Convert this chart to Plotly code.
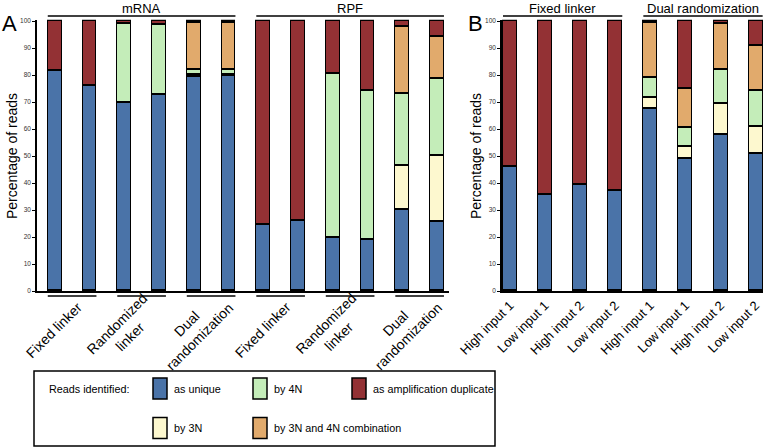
import plotly.graph_objects as go

W, H = 763, 447

# ---------------- data ----------------
series_names = ["as unique", "by 3N", "by 4N", "by 3N and 4N combination",
                "as amplification duplicate"]
series_colors = ["#4a73a8", "#fdf8cf", "#c4edb9", "#e1aa6c", "#933134"]

# Panel A: mRNA (6 samples) then RPF (6 samples)
a_unique = [81.5, 76.0, 69.8, 72.8, 79.5, 79.8, 24.7, 26.2, 19.6, 19.2, 30.0, 25.8]
a_by3n = [0, 0, 0, 0, 0.5, 0.4, 0, 0, 0, 0, 16.4, 24.3]
a_by4n = [0, 0, 29.2, 26.0, 2.0, 1.8, 0, 0, 60.8, 55.1, 26.7, 28.4]
a_combo = [0, 0, 0, 0, 17.5, 17.4, 0, 0, 0, 0, 24.9, 15.7]
a_dup = [18.5, 24.0, 1.0, 1.2, 0.5, 0.6, 75.3, 73.8, 19.6, 25.7, 2.0, 5.8]
a_groups = ["Fixed linker", "Randomized<br>linker", "Dual<br>randomization",
            "Fixed linker", "Randomized<br>linker", "Dual<br>randomization"]
a_sections = ["mRNA", "RPF"]

# Panel B
b_labels = ["High input 1", "Low input 1", "High input 2", "Low input 2",
            "High input 1", "Low input 1", "High input 2", "Low input 2"]
b_unique = [46.0, 35.6, 39.5, 37.0, 67.4, 49.1, 58.0, 51.0]
b_by3n = [0, 0, 0, 0, 4.3, 4.3, 11.5, 10.0]
b_by4n = [0, 0, 0, 0, 7.2, 7.1, 12.4, 13.2]
b_combo = [0, 0, 0, 0, 20.6, 14.6, 17.2, 16.8]
b_dup = [54.0, 64.4, 60.5, 63.0, 0.5, 24.9, 0.9, 9.0]
b_sections = ["Fixed linker", "Dual randomization"]

y_ticks = [0, 10, 20, 30, 40, 50, 60, 70, 80, 90, 100]
y_title = "Percentage of reads"
legend_title = "Reads identified:"

a_series = [a_unique, a_by3n, a_by4n, a_combo, a_dup]
b_series = [b_unique, b_by3n, b_by4n, b_combo, b_dup]

# ---------------- helpers ----------------
def px(x):
    return x / W


def py(y):
    return 1 - y / H


FONT = "Liberation Sans, Arial, sans-serif"

fig = go.Figure()

a_x = list(range(len(a_unique)))
b_x = list(range(len(b_unique)))
for k, name in enumerate(series_names):
    fig.add_bar(x=a_x, y=a_series[k], name=name, xaxis="x", yaxis="y",
                width=0.4, showlegend=False,
                marker=dict(color=series_colors[k], line=dict(color="black", width=1.5)))
    fig.add_bar(x=b_x, y=b_series[k], name=name, xaxis="x2", yaxis="y2",
                width=0.4, showlegend=False,
                marker=dict(color=series_colors[k], line=dict(color="black", width=1.5)))

yax = dict(range=[0, 100.5], tickvals=y_ticks, ticks="outside", ticklen=3,
           tickwidth=1, tickcolor="black", showline=True, linecolor="black",
           linewidth=1.5, showgrid=False, zeroline=False, automargin=False,
           tickfont=dict(size=6.5, color="#333", family=FONT),
           domain=[py(291), py(19.65)])

fig.update_layout(
    template="none",
    width=W, height=H, margin=dict(l=0, r=0, t=0, b=0, pad=0),
    paper_bgcolor="white", plot_bgcolor="white",
    barmode="stack", bargap=0,
    font=dict(family=FONT, color="black"),
    xaxis=dict(domain=[px(37), px(449)], range=[-0.51, 11.345], anchor="y",
               showline=True, linecolor="black", linewidth=1.5, automargin=False,
               showticklabels=False, ticks="", showgrid=False, zeroline=False),
    yaxis=dict(anchor="x", **yax),
    xaxis2=dict(domain=[px(502), 1.0], range=[-0.228, 7.21], anchor="y2",
                showline=True, linecolor="black", linewidth=1.5, automargin=False,
                tickvals=b_x, ticktext=b_labels, tickangle=-45, ticks="",
                tickfont=dict(size=13, family=FONT, color="black"),
                showgrid=False, zeroline=False),
    yaxis2=dict(anchor="x2", **yax),
)

ann = []
shapes = []

# panel letters
ann.append(dict(text="A", x=px(9.5), y=py(23), xref="paper", yref="paper",
                showarrow=False, font=dict(size=22), xanchor="center", yanchor="middle"))
ann.append(dict(text="B", x=px(475.5), y=py(23), xref="paper", yref="paper",
                showarrow=False, font=dict(size=22), xanchor="center", yanchor="middle"))
# y titles
for xt in (12, 476):
    ann.append(dict(text=y_title, x=px(xt), y=py(156), xref="paper", yref="paper",
                    textangle=-90, showarrow=False, font=dict(size=14),
                    xanchor="center", yanchor="middle"))

# section titles and lines
for i, s in enumerate(a_sections):
    c = i * 6 + 2.5
    ann.append(dict(text=s, x=c, y=py(8.5), xref="x", yref="paper", showarrow=False,
                    font=dict(size=13), xanchor="center", yanchor="middle"))
    shapes.append(dict(type="line", xref="x", yref="paper", x0=c - 2.7, x1=c + 2.7,
                       y0=py(16), y1=py(16), line=dict(color="black", width=1.3)))
for i, s in enumerate(b_sections):
    c = i * 4 + 1.5
    ann.append(dict(text=s, x=c, y=py(8.5), xref="x2", yref="paper", showarrow=False,
                    font=dict(size=13), xanchor="center", yanchor="middle"))
    shapes.append(dict(type="line", xref="x2", yref="paper", x0=c - 1.7, x1=c + 1.7,
                       y0=py(16), y1=py(16), line=dict(color="black", width=1.3)))

# panel A group labels and underlines
for i, g in enumerate(a_groups):
    c = i * 2 + 0.5
    shapes.append(dict(type="line", xref="x", yref="paper", x0=c - 0.7, x1=c + 0.7,
                       y0=py(296), y1=py(296), line=dict(color="black", width=1.3)))
    ann.append(dict(text=g, x=c, y=py(330), xref="x", yref="paper", xshift=-18,
                    textangle=-45, showarrow=False, align="center",
                    font=dict(size=14), xanchor="center", yanchor="middle"))

# legend box
shapes.append(dict(type="rect", xref="paper", yref="paper", x0=px(34), x1=px(495),
                   y0=py(446), y1=py(371), line=dict(color="black", width=1.5)))
ann.append(dict(text=legend_title, x=px(47), y=py(389), xref="paper", yref="paper",
                showarrow=False, font=dict(size=10.8),
                xanchor="left", yanchor="middle"))
legend_slots = [(153, 388.5), (153, 428), (253, 388.5), (253, 428), (352, 388.5)]
for k, name in enumerate(series_names):
    lx, ly = legend_slots[k]
    shapes.append(dict(type="rect", xref="paper", yref="paper", x0=px(lx), x1=px(lx + 14),
                       y0=py(ly + 10.5), y1=py(ly - 10.5), fillcolor=series_colors[k],
                       line=dict(color="black", width=1.5)))
    ann.append(dict(text=name, x=px(lx + 19), y=py(ly), xref="paper", yref="paper",
                    showarrow=False, font=dict(size=10.8),
                    xanchor="left", yanchor="middle"))

fig.update_layout(annotations=ann, shapes=shapes)
fig.write_html("out.html", config={"displayModeBar": False},
               post_script="document.body.style.margin='0px';document.body.style.padding='0px';")
